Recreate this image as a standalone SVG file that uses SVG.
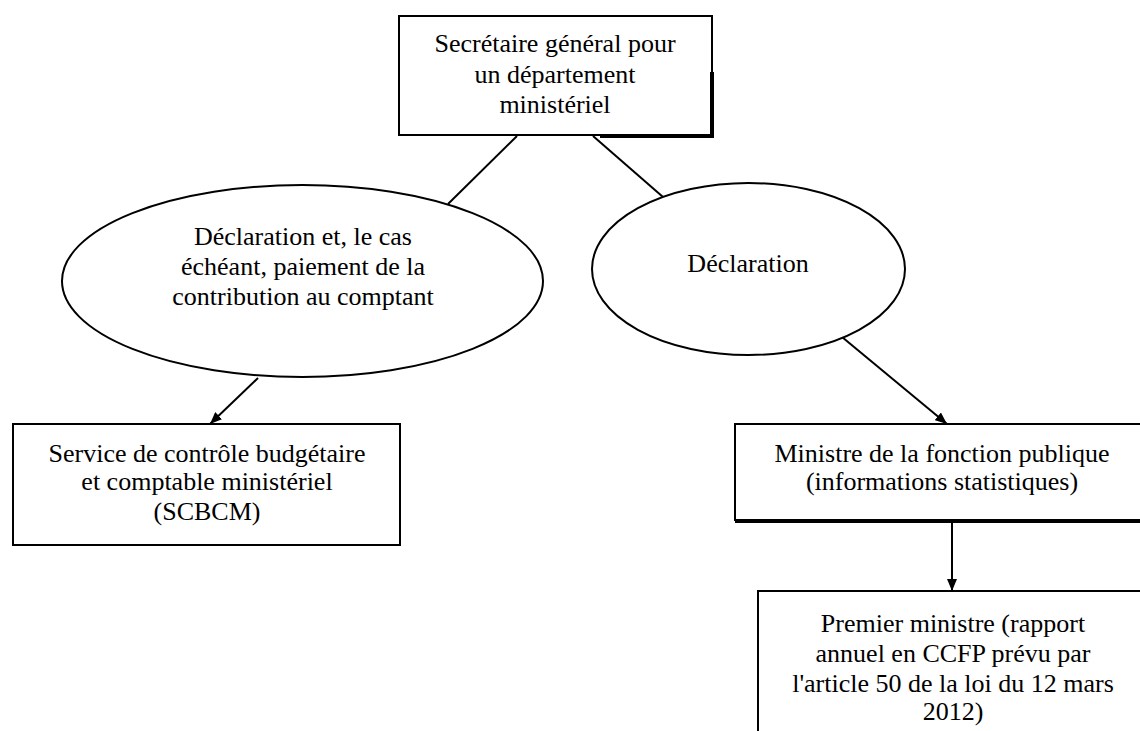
<svg xmlns="http://www.w3.org/2000/svg" width="1140" height="731" viewBox="0 0 1140 731">
<style>
text{font-family:"Liberation Serif","Times New Roman",serif;font-size:26px;fill:#000;text-anchor:middle}
.box{fill:#fff;stroke:#000;stroke-width:2}
.ell{fill:#fff;stroke:#000;stroke-width:2}
.shadow{stroke:#000;stroke-width:4;fill:none}
.conn{stroke:#000;stroke-width:2;fill:none}
</style>
<defs>
<marker id="arr" markerUnits="userSpaceOnUse" markerWidth="12" markerHeight="10" refX="12" refY="5" orient="auto">
<path d="M0,0 L12,5 L0,10 z" fill="#000"/>
</marker>
</defs>
<rect width="1140" height="731" fill="#fff"/>
<g id="connectors">
<line class="conn" x1="517" y1="136" x2="448" y2="204"/>
<line class="conn" x1="593" y1="136" x2="663" y2="197"/>
<line class="conn" x1="258" y1="378" x2="210" y2="424" marker-end="url(#arr)"/>
<line class="conn" x1="842" y1="337" x2="947" y2="424" marker-end="url(#arr)"/>
<line class="conn" x1="952" y1="521" x2="952" y2="591" marker-end="url(#arr)"/>
</g>
<g id="secretaire">
<rect class="box" x="399" y="16" width="313" height="119"/>
<path class="shadow" d="M712,72 V136 H600"/>
<text x="555" y="52">Secrétaire général pour</text>
<text x="555" y="83">un département</text>
<text x="555" y="113">ministériel</text>
</g>
<g id="declaration-paiement">
<ellipse class="ell" cx="302.5" cy="281" rx="240.5" ry="96"/>
<text x="303" y="245">Déclaration et, le cas</text>
<text x="303" y="275">échéant, paiement de la</text>
<text x="303" y="305">contribution au comptant</text>
</g>
<g id="declaration">
<ellipse class="ell" cx="748.5" cy="269" rx="156.5" ry="86"/>
<text x="748" y="272">Déclaration</text>
</g>
<g id="scbcm">
<rect class="box" x="13" y="424" width="387" height="121"/>
<text x="207" y="462">Service de contrôle budgétaire</text>
<text x="207" y="490">et comptable ministériel</text>
<text x="207" y="520">(SCBCM)</text>
</g>
<g id="ministre-fp">
<rect class="box" x="735" y="424" width="414" height="96"/>
<path class="shadow" d="M735,521 H1149"/>
<text x="942" y="462">Ministre de la fonction publique</text>
<text x="942" y="490">(informations statistiques)</text>
</g>
<g id="premier-ministre">
<rect class="box" x="758" y="591" width="392" height="160"/>
<text x="953" y="632">Premier ministre (rapport</text>
<text x="953" y="662">annuel en CCFP prévu par</text>
<text x="953" y="692">l'article 50 de la loi du 12 mars</text>
<text x="953" y="720">2012)</text>
</g>
</svg>
